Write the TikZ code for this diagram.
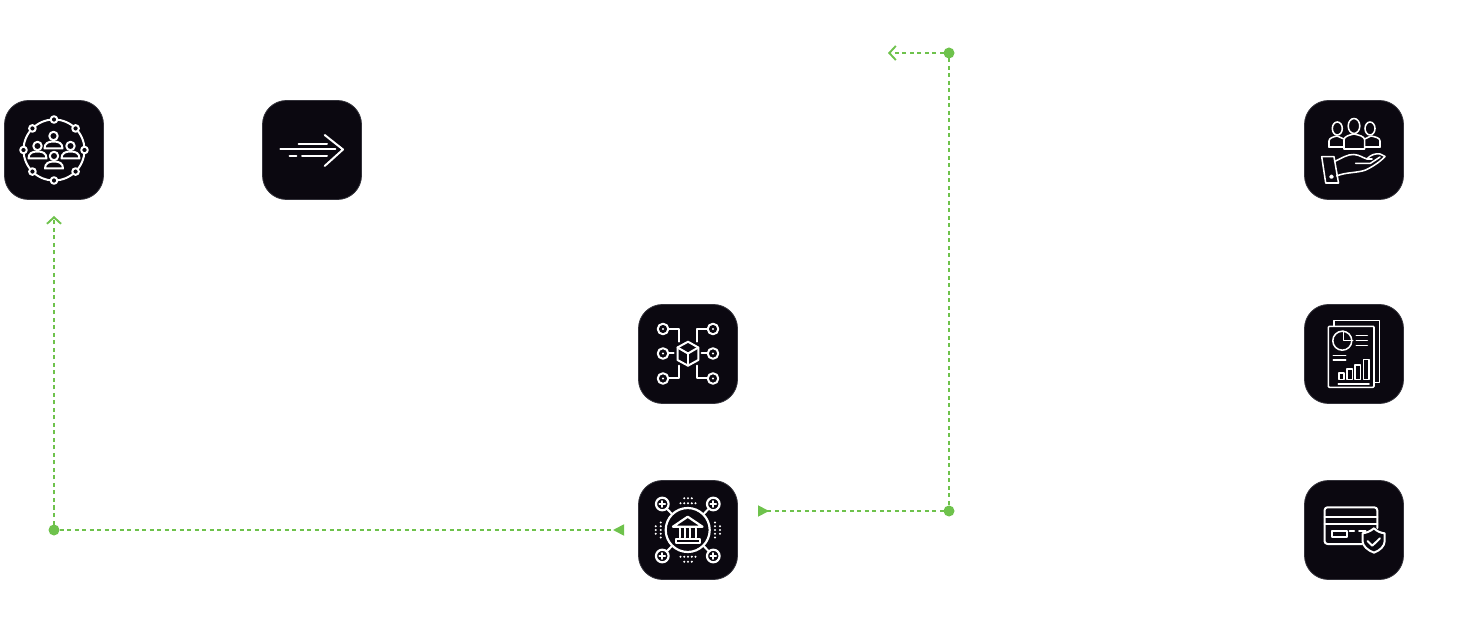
\documentclass[tikz,border=0pt]{standalone}
\usetikzlibrary{arrows.meta}
\definecolor{tilebg}{HTML}{0B0810}
\definecolor{tileedge}{HTML}{33323A}
\definecolor{linkgreen}{HTML}{6EC24C}
\tikzset{
  tile/.style={draw=tileedge,line width=0.8pt,fill=tilebg,rounded corners=24pt,minimum width=99pt,minimum height=99pt,inner sep=0pt,outer sep=0pt},
  ink/.style={draw=white,line width=2pt,line cap=round,line join=round},
  thin ink/.style={ink,line width=1.55pt},
  inkf/.style={ink,fill=tilebg},
  link/.style={draw=linkgreen,line width=1.8pt,dash pattern=on 4pt off 3.5pt},
  jointdot/.style={circle,fill=linkgreen,minimum size=11pt,inner sep=0pt,outer sep=0pt},
  tipopen/.style={-{Straight Barb[length=6.5pt,width=14pt,line width=1.9pt,color=linkgreen]}},
  tipback/.style={-{Triangle[reversed,length=11pt,width=11pt,color=linkgreen]}}
}
\newcommand{\personmark}[2]{%
  \path[inkf] (#1-9,#2+12.5) .. controls (#1-9,#2+7) and (#1-5,#2+5.5) .. (#1,#2+5.5)
     .. controls (#1+5,#2+5.5) and (#1+9,#2+7) .. (#1+9,#2+12.5) -- cycle;
  \path[inkf] (#1,#2) circle[radius=4.2];}
\begin{document}
\begin{tikzpicture}[x=1pt,y=-1pt]
\useasboundingbox (0,0) rectangle (1468,617);
% tiles
\node[tile] (tcrowd) at (54,150) {};
\node[tile] (tspeed) at (312,150) {};
\node[tile] (thand) at (1354,150) {};
\node[tile] (tcube) at (688,354) {};
\node[tile] (treport) at (1354,354) {};
\node[tile] (tbank) at (688,530) {};
\node[tile] (tcard) at (1354,530) {};
% connectors
\node[jointdot] (dleft) at (54,530) {};
\node[jointdot] (dtop) at (949,53) {};
\node[jointdot] (dbot) at (949,511) {};
\coordinate (eup) at (54,216);
\coordinate (ebank) at (624,530);
\coordinate (ebank2) at (758,511);
\coordinate (etop) at (888,53);
\draw[link,tipopen] (dleft) -- (eup);
\draw[link,tipback] (dleft) -- (ebank);
\draw[link] (dtop) -- (dbot);
\draw[link,tipopen] (dtop) -- (etop);
\draw[link,tipback] (dbot) -- (ebank2);
% icon: crowd
\path[ink] (54,150) circle[radius=30.5];
\foreach \a in {0,45,...,315}{\path[inkf] (54,150) ++(\a:30.5) circle[radius=3.3];}
\personmark{53.5}{136}
\personmark{37.5}{146}
\personmark{70.5}{146}
\personmark{54}{156}
% icon: speed arrow
\path[ink] (324.7,135) -- (343,149.5) -- (324.7,166);
\path[ink] (298.7,144) -- (327,144);
\path[ink] (280.3,149.5) -- (335.3,149.5);
\path[ink] (289.5,156) -- (296.3,156);
\path[ink] (302,156) -- (327,156);
% icon: people over hand
\path[thin ink] (1329,147) -- (1329,141) .. controls (1329,138) and (1333,137) .. (1337,136) -- (1344,139);
\path[thin ink] (1329,147) -- (1344,147);
\path[thin ink] (1380,147) -- (1380,141) .. controls (1380,138) and (1376,137) .. (1371,136) -- (1364.7,139);
\path[thin ink] (1380,147) -- (1364.7,147);
\path[thin ink,fill=tilebg] (1344,149) -- (1344,140) .. controls (1344,136) and (1350,135) .. (1354,134) .. controls (1358,135) and (1364.7,136) .. (1364.7,140) -- (1364.7,149) -- cycle;
\path[thin ink,fill=tilebg] (1337.3,128.5) ellipse[x radius=5,y radius=6.5];
\path[thin ink,fill=tilebg] (1370,128.5) ellipse[x radius=5,y radius=6.5];
\path[thin ink,fill=tilebg] (1354,126) ellipse[x radius=5.8,y radius=7.5];
\path[thin ink] (1321.7,156.7) -- (1334,156.7) -- (1338.5,183) -- (1325.7,183) -- cycle;
\path[thin ink] (1331.5,176.7) circle[radius=1.5];
\path[thin ink] (1334.5,161.5) .. controls (1342,158) and (1348,154) .. (1354,154.5) .. controls (1360,155) and (1363,158) .. (1367,159) .. controls (1370,155) and (1376,153) .. (1380,154) -- (1385,156.5) .. controls (1380,162) and (1372,167) .. (1365.7,170) .. controls (1358,173) and (1346,172) .. (1336.5,176);
\path[thin ink] (1355.7,163.3) -- (1370.5,163.3) -- (1380,157);
\path[thin ink] (1367,159) -- (1372,159);
% icon: cube network
\foreach \x in {663,713}{\foreach \y in {329,353.5,378.5}{
  \path[ink] (\x,\y) circle[radius=5.3];
  \fill[white] (\x,\y) circle[radius=1.1];}}
\path[ink] (668.3,329) -- (678.7,329) -- (678.7,341.7);
\path[ink] (668.3,353.5) -- (673.7,353.5);
\path[ink] (668.3,378.5) -- (678.7,378.5) -- (678.7,365.7);
\path[ink] (707.7,329) -- (696.8,329) -- (696.8,341.7);
\path[ink] (707.7,353.5) -- (701.5,353.5);
\path[ink] (707.7,378.5) -- (696.8,378.5) -- (696.8,365.7);
\path[ink] (688,341.7) -- (698.3,347.5) -- (698.3,360) -- (688,365.7) -- (677.5,360) -- (677.5,347.5) -- cycle;
\path[ink] (677.5,347.5) -- (688,353.5) -- (698.3,347.5);
\path[ink] (688,353.5) -- (688,365.7);
% icon: report
\path[thin ink] (1334,326) -- (1334,320.7) -- (1379.5,320.7) -- (1379.5,382.3) -- (1374,382.3);
\path[thin ink,rounded corners=1pt] (1328.3,326.3) rectangle (1374,387.3);
\path[thin ink] (1342.3,340.7) circle[radius=9.5];
\path[thin ink] (1343.5,331.2) -- (1343.5,340.7) -- (1352.8,340.7);
\foreach \y in {335.7,340.7,345.7}{\path[thin ink] (1356.3,\y) -- (1367.3,\y);}
\foreach \y in {355.7,360}{\path[thin ink] (1333.3,\y) -- (1345.7,\y);}
\path[thin ink] (1339,373) rectangle (1344,379.5);
\path[thin ink] (1347,369) rectangle (1352.3,379.5);
\path[thin ink] (1355.2,365) rectangle (1360.5,379.5);
\path[thin ink] (1363.5,359.5) rectangle (1369,379.5);
\path[thin ink] (1338.3,384) -- (1369,384);
% icon: bank
\foreach \x/\y/\ex/\ey in {662.3/504/672.5/514.5,713.3/504/703.2/514.5,662.3/556/672.5/545.5,713.3/556/703.2/545.5}{
  \path[ink] (\x,\y) -- (\ex,\ey);
  \path[inkf,line width=2.2pt] (\x,\y) circle[radius=6.3];
  \path[ink,line width=2.2pt] (\x-2.8,\y) -- (\x+2.8,\y) (\x,\y-2.8) -- (\x,\y+2.8);}
\path[ink,line width=2.2pt] (687.7,530) circle[radius=22];
\path[ink,line width=2.2pt] (687.7,516.7) -- (702.5,526.7) -- (672.9,526.7) -- cycle;
\foreach \x in {679.7,685,690.4,695.7}{\path[ink] (\x,528.5) -- (\x,537.5);}
\path[ink] (675.5,538.5) rectangle (700,543);
\foreach \x in {680.5,684.2,688,691.8,695.5}{
  \fill[white] (\x,503.3) circle[radius=1.15];
  \fill[white] (\x,556.7) circle[radius=1.15];}
\foreach \x in {684.2,688,691.8}{
  \fill[white] (\x,498.3) circle[radius=1.15];
  \fill[white] (\x,561.7) circle[radius=1.15];}
\foreach \y in {522.5,526.2,530,533.8,537.5}{
  \fill[white] (660.7,\y) circle[radius=1.15];
  \fill[white] (715,\y) circle[radius=1.15];}
\foreach \y in {526.2,530,533.8}{
  \fill[white] (655.7,\y) circle[radius=1.15];
  \fill[white] (720,\y) circle[radius=1.15];}
% icon: card
\path[ink,rounded corners=3pt] (1362,544) -- (1324.5,544) -- (1324.5,507.3) -- (1377.3,507.3) -- (1377.3,528);
\path[ink] (1324.5,517.3) -- (1377.3,517.3);
\path[ink] (1324.5,524) -- (1377.3,524);
\path[ink] (1331.5,531.3) rectangle (1347.3,537.3);
\path[ink] (1349.5,531) -- (1354,531);
\path[ink] (1359,531) -- (1365.5,531);
\path[inkf] (1374,528.3) .. controls (1370,531.5) and (1366,533) .. (1362.5,533.3) -- (1362.5,541) .. controls (1362.5,546) and (1368,550.5) .. (1374,552.7) .. controls (1380,550.5) and (1384.7,546) .. (1384.7,541) -- (1384.7,533.3) .. controls (1381,533) and (1377,531.5) .. (1374,528.3) -- cycle;
\path[ink] (1367.5,541) -- (1372.3,545.7) -- (1380,538.3);
\end{tikzpicture}
\end{document}
